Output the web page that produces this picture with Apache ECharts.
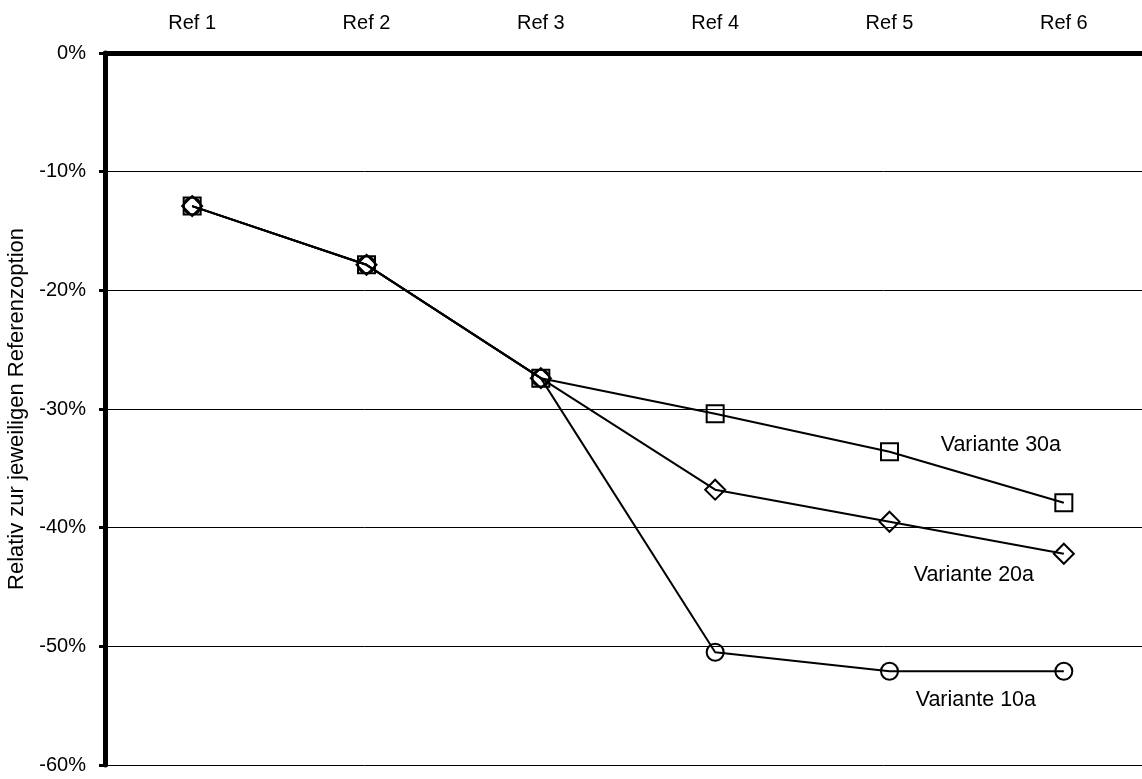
<!DOCTYPE html>
<html>
<head>
<meta charset="utf-8">
<script src="https://cdn.jsdelivr.net/npm/echarts@6/dist/echarts.min.js"></script>
<style>
html,body{margin:0;padding:0;background:#fff;}
#chart{width:1142px;height:779px;}
</style>
</head>
<body>
<div id="chart"></div>
<script>
const categories = ['Ref 1', 'Ref 2', 'Ref 3', 'Ref 4', 'Ref 5', 'Ref 6'];
const variante30a = [-12.9, -17.85, -27.4, -30.4, -33.6, -37.9];
const variante20a = [-12.9, -17.85, -27.4, -36.8, -39.5, -42.2];
const variante10a = [-12.9, -17.85, -27.4, -50.5, -52.1, -52.1];
const seriesNames = ['Variante 30a', 'Variante 20a', 'Variante 10a'];
const yTicks = { min: -60, max: 0, interval: 10 };
const yAxisTitle = 'Relativ zur jeweiligen Referenzoption';

const FONT = "'Liberation Sans', Arial, sans-serif";

function withEndLabel(values, name, offset) {
  return values.map((v, i) => {
    if (i !== values.length - 1) return v;
    return {
      value: v,
      label: {
        show: true,
        formatter: name,
        position: 'inside',
        offset: offset,
        color: '#000',
        fontFamily: FONT,
        fontSize: 21.5,
        align: 'center',
        verticalAlign: 'middle'
      }
    };
  });
}

function lineSeries(name, values, symbol, size, offset, z) {
  return {
    name: name,
    type: 'line',
    data: withEndLabel(values, name, offset),
    symbol: symbol,
    symbolSize: size,
    showAllSymbol: true,
    z: z,
    lineStyle: { color: '#000', width: 2 },
    itemStyle: { color: 'rgba(0,0,0,0)', borderColor: '#000', borderWidth: 2 },
    emphasis: { disabled: true },
    animation: false
  };
}

const chart = echarts.init(document.getElementById('chart'), null, { renderer: 'canvas' });
chart.setOption({
  backgroundColor: '#fff',
  animation: false,
  textStyle: { fontFamily: FONT },
  grid: { left: 105, top: 53, width: 1046, height: 712, containLabel: false, outerBoundsMode: 'none' },
  xAxis: {
    type: 'category',
    position: 'top',
    data: categories,
    boundaryGap: true,
    axisLine: { show: true, onZero: false, lineStyle: { color: '#000', width: 5 } },
    axisTick: { show: false },
    axisLabel: { color: '#000', fontSize: 20, fontFamily: FONT, margin: 20 },
    splitLine: { show: false }
  },
  yAxis: {
    type: 'value',
    min: yTicks.min,
    max: yTicks.max,
    interval: yTicks.interval,
    name: yAxisTitle,
    nameLocation: 'middle',
    nameRotate: 90,
    nameGap: 76,
    nameTextStyle: { color: '#000', fontSize: 22, fontFamily: FONT },
    axisLine: { show: true, onZero: false, lineStyle: { color: '#000', width: 5 } },
    axisTick: { show: true, length: 6, inside: false, lineStyle: { color: '#000', width: 3 } },
    axisLabel: { color: '#000', fontSize: 20, fontFamily: FONT, margin: 19, formatter: '{value}%' },
    splitLine: { show: true, lineStyle: { color: '#000', width: 1 } }
  },
  series: [
    lineSeries(seriesNames[2], variante10a, 'circle', 17, [-88, 29], 2),
    lineSeries(seriesNames[1], variante20a, 'diamond', 20, [-90, 21], 3),
    lineSeries(seriesNames[0], variante30a, 'rect', 17, [-63, -58], 4)
  ]
});
</script>
</body>
</html>
